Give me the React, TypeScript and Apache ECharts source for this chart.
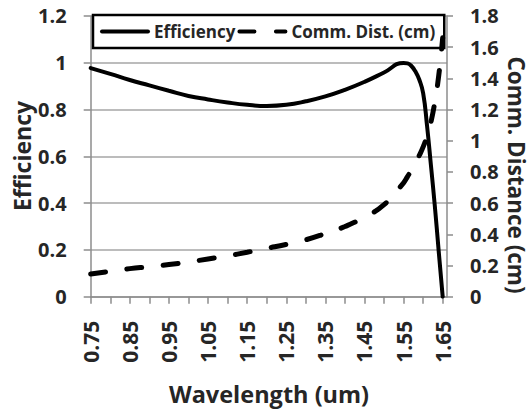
import React, { useEffect, useRef } from "react";
import * as echarts from "echarts";

const wavelength = [0.75, 0.8, 0.85, 0.9, 0.95, 1.0, 1.05, 1.1, 1.15, 1.2, 1.25, 1.3, 1.35, 1.4, 1.45, 1.5, 1.55, 1.56, 1.57, 1.58, 1.59, 1.6, 1.61, 1.62, 1.63, 1.64, 1.65];
const efficiency = [0.977, 0.952, 0.926, 0.903, 0.88, 0.858, 0.843, 0.83, 0.82, 0.815, 0.82, 0.835, 0.856, 0.884, 0.918, 0.958, 0.999, 0.997, 0.986, 0.963, 0.928, 0.87, 0.73, 0.56, 0.385, 0.19, 0.0];
const commDist = [0.145, 0.163, 0.18, 0.192, 0.206, 0.222, 0.242, 0.262, 0.285, 0.31, 0.335, 0.365, 0.405, 0.45, 0.51, 0.59, 0.73, 0.77, 0.81, 0.855, 0.905, 0.96, 1.03, 1.12, 1.25, 1.42, 1.66];
const seriesNames = ["Efficiency", "Comm. Dist. (cm)"];
const xTitle = "Wavelength (um)";
const yLeftTitle = "Efficiency";
const yRightTitle = "Comm. Distance (cm)";

const FONT = "Open Sans";
const TXT = "#262626";
const AXIS = "#8c8c8c";
const GRID = "#a6a6a6";

export default function App() {
  const ref = useRef<HTMLDivElement>(null);
  useEffect(() => {
    document.body.style.margin = "0";
    const chart = echarts.init(ref.current!, null, { renderer: "svg" });
    const effData = wavelength.map((w, i) => [w, efficiency[i]]);
    const distData = wavelength.map((w, i) => [w, commDist[i]]);
    chart.setOption({
      animation: false,
      backgroundColor: "#fff",
      grid: { left: 90.7, right: 83, top: 15.9, bottom: 114.3, containLabel: false },
      legend: {
        left: 93,
        top: 15,
        padding: [8, 9, 8, 7],
        itemGap: 2,
        itemWidth: 46,
        itemHeight: 14,
        backgroundColor: "#fff",
        borderColor: "#000",
        borderWidth: 2.5,
        borderRadius: 0,
        itemStyle: { color: "rgba(0,0,0,0)", borderWidth: 0, opacity: 0 },
        lineStyle: { width: 4, cap: "round" },
        textStyle: { fontFamily: FONT, fontWeight: "bold", fontSize: 17, color: TXT, padding: [0, 0, 0, 1] },
        data: seriesNames,
      },
      xAxis: {
        type: "value",
        min: 0.75,
        max: 1.661,
        interval: 0.05,
        splitLine: { show: false },
        axisLine: { show: true, onZero: false, lineStyle: { color: AXIS, width: 1.5 } },
        axisTick: { show: true, length: 7, lineStyle: { color: AXIS, width: 1.5 } },
        axisLabel: {
          rotate: 90,
          margin: 24,
          fontFamily: FONT,
          fontWeight: "bold",
          fontSize: 21,
          color: TXT,
          showMaxLabel: false,
          formatter: (v: number) => {
            const c = Math.round(v * 100);
            if (c % 10 === 5 && c <= 165) return (c / 100).toFixed(2);
            return "";
          },
        },
      },
      yAxis: [
        {
          type: "value",
          min: 0,
          max: 1.2,
          interval: 0.2,
          splitLine: { show: true, lineStyle: { color: GRID, width: 1.5 } },
          axisLine: { show: true, lineStyle: { color: AXIS, width: 1.5 } },
          axisTick: { show: true, length: 7, lineStyle: { color: AXIS, width: 1.5 } },
          axisLabel: { margin: 24, fontFamily: FONT, fontWeight: "bold", fontSize: 20, color: TXT },
        },
        {
          type: "value",
          min: 0,
          max: 1.8,
          interval: 0.2,
          position: "right",
          splitLine: { show: false },
          axisLine: { show: true, lineStyle: { color: AXIS, width: 1.5 } },
          axisTick: { show: true, length: 6, lineStyle: { color: AXIS, width: 1.5 } },
          axisLabel: { margin: 23, fontFamily: FONT, fontWeight: "bold", fontSize: 20, color: TXT },
        },
      ],
      series: [
        {
          name: seriesNames[0],
          type: "line",
          yAxisIndex: 0,
          data: effData,
          showSymbol: false,
          symbol: "none",
          smooth: 0.5,
          lineStyle: { color: "#000", width: 4, cap: "round" },
          itemStyle: { color: "#000" },
          z: 3,
        },
        {
          name: seriesNames[1],
          type: "line",
          yAxisIndex: 1,
          data: distData,
          showSymbol: false,
          symbol: "none",
          smooth: 0.5,
          lineStyle: { color: "#000", width: 5, type: [15, 21.5], cap: "round" },
          itemStyle: { color: "#000" },
          z: 4,
        },
      ],
      graphic: [
        {
          type: "text",
          x: 269,
          y: 394,
          style: {
            text: xTitle,
            fontFamily: FONT,
            fontWeight: "bold",
            fontSize: 23.5,
            fill: TXT,
            align: "center",
            verticalAlign: "middle",
          },
        },
        {
          type: "text",
          x: 22,
          y: 156,
          rotation: Math.PI / 2,
          style: {
            text: yLeftTitle,
            fontFamily: FONT,
            fontWeight: "bold",
            fontSize: 23,
            fill: TXT,
            align: "center",
            verticalAlign: "middle",
          },
        },
        {
          type: "text",
          x: 516,
          y: 175,
          rotation: -Math.PI / 2,
          style: {
            text: yRightTitle,
            fontFamily: FONT,
            fontWeight: "bold",
            fontSize: 22.5,
            fill: TXT,
            align: "center",
            verticalAlign: "middle",
          },
        },
      ],
    });
    return () => chart.dispose();
  }, []);
  return <div ref={ref} style={{ width: 530, height: 411 }} />;
}
